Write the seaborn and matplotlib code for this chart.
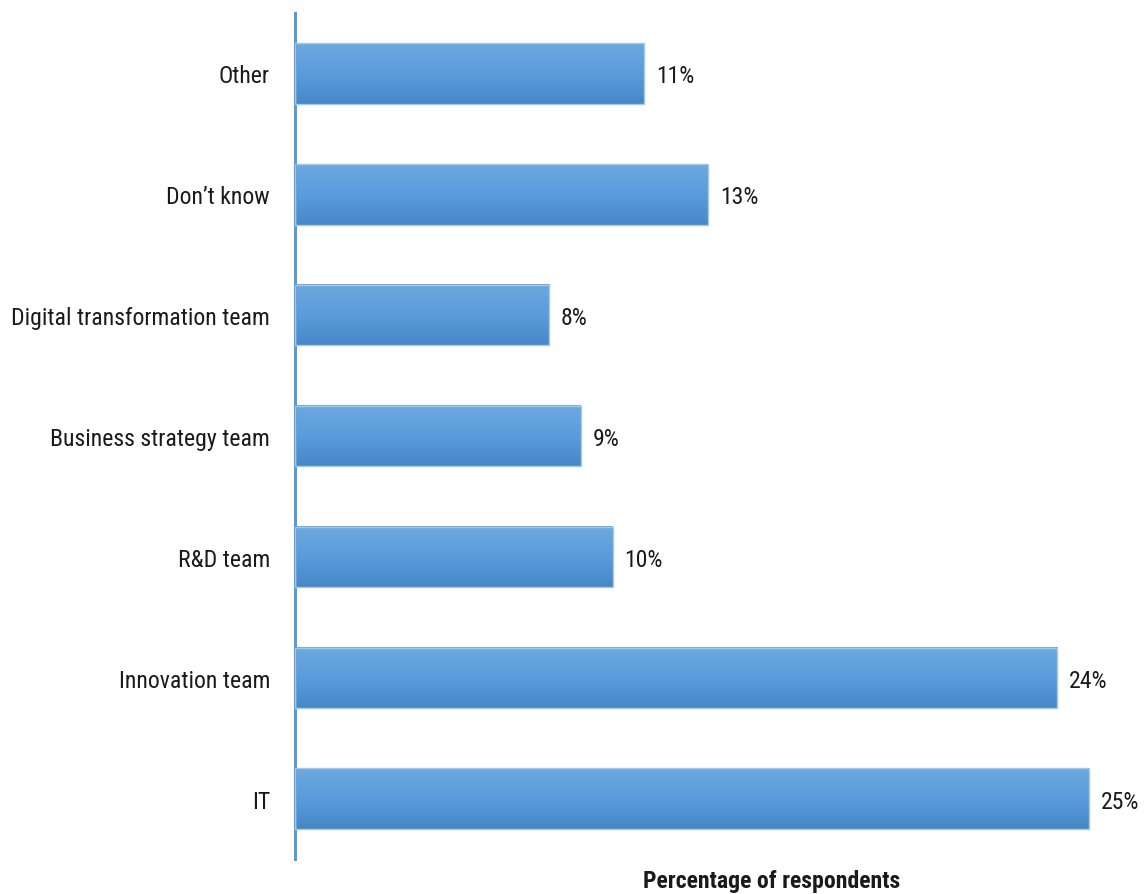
import numpy as np
import pandas as pd
import matplotlib
matplotlib.use("Agg")
import matplotlib.pyplot as plt
from matplotlib import font_manager
from matplotlib.colors import LinearSegmentedColormap
import seaborn as sns

categories = ["Other", "Don\u2019t know", "Digital transformation team",
              "Business strategy team", "R&D team", "Innovation team", "IT"]
values = [11, 13, 8, 9, 10, 24, 25]

df = pd.DataFrame({"team": categories, "pct": values})

sns.set_theme(style="white")

# prefer a condensed face when one is available, else a narrower size of Roboto
installed = {f.name for f in font_manager.fontManager.ttflist}
condensed = [n for n in ("Roboto Condensed", "Open Sans Condensed",
                         "Liberation Sans Narrow", "Arial Narrow")
             if n in installed]
if condensed:
    plt.rcParams["font.family"] = [condensed[0], "DejaVu Sans"]
    fs = 17.1
else:
    plt.rcParams["font.family"] = ["Roboto", "DejaVu Sans"]
    fs = 15.0

fig = plt.figure(figsize=(11.44, 8.95), dpi=100)
ax = fig.add_axes([295 / 1144, 35 / 895, 826 / 1144, 846 / 895])

sns.barplot(data=df, x="pct", y="team", orient="h", width=0.5,
            color="#5b9bd5", ax=ax)

# vertical gradient fill for each bar
grad = LinearSegmentedColormap.from_list(
    "bar_grad", ["#6ea8de", "#5a9cdc", "#4787c6"])
col = np.linspace(0, 1, 256).reshape(-1, 1)
for p in ax.patches:
    x0, y0 = p.get_x(), p.get_y()
    w, h = p.get_width(), p.get_height()
    ax.imshow(col, cmap=grad, aspect="auto", origin="upper",
              extent=(x0, x0 + w, y0 + h, y0), zorder=2)
    p.set_facecolor("none")
    p.set_edgecolor("#a6c8e8")
    p.set_linewidth(1.0)
    p.set_zorder(3)

ax.set_xlim(0, 26)
ax.set_ylim(6.5, -0.5)

labels = ax.bar_label(ax.containers[0], labels=[f"{v}%" for v in values],
                      padding=8.5, fontsize=fs, color="#1a1a1a")
for t in labels:
    t.set_verticalalignment("center_baseline")

for s in ["top", "right", "bottom"]:
    ax.spines[s].set_visible(False)
ax.spines["left"].set_color("#5b9bd5")
ax.spines["left"].set_linewidth(2.2)

ax.set_xticks([])
ax.tick_params(axis="y", length=0, pad=18, labelsize=fs, labelcolor="#1a1a1a")
for t in ax.get_yticklabels():
    t.set_verticalalignment("center_baseline")
ax.set_ylabel("")
ax.set_xlabel("Percentage of respondents", fontsize=fs, fontweight="bold",
              color="#1a1a1a")
ax.xaxis.set_label_coords((772 - 295) / 826, -0.012)
ax.xaxis.label.set_verticalalignment("top")

fig.savefig("out.png", dpi=100, facecolor="white")
